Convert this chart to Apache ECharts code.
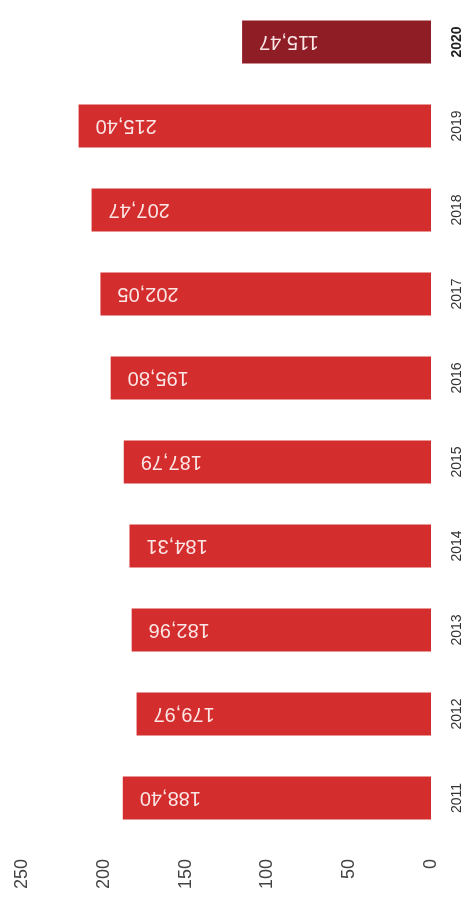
<!DOCTYPE html>
<html>
<head>
<meta charset="utf-8">
<style>html,body{margin:0;padding:0;background:#fff;}#c{width:473px;height:911px;}</style>
<script src="https://cdn.jsdelivr.net/npm/echarts@6/dist/echarts.min.js"></script>
</head>
<body>
<div id="c"></div>
<script>
var years = ['2011','2012','2013','2014','2015','2016','2017','2018','2019','2020'];
var values = [188.40, 179.97, 182.96, 184.31, 187.79, 195.80, 202.05, 207.47, 215.40, 115.47];
var valueTicks = [0, 50, 100, 150, 200, 250];
var barColor = '#d42d2d';
var lastColor = '#8f1d25';

var chart = echarts.init(document.getElementById('c'), null, {renderer: 'canvas'});
chart.setOption({
  animation: false,
  backgroundColor: '#ffffff',
  grid: {left: 22, right: 42, top: -17, bottom: 71},
  xAxis: {
    type: 'value', inverse: true, min: valueTicks[0], max: valueTicks[valueTicks.length - 1], interval: 50,
    axisLine: {show: false}, axisTick: {show: false}, splitLine: {show: false},
    axisLabel: {
      rotate: 90, align: 'right', verticalAlign: 'middle', margin: 19,
      fontFamily: 'Liberation Sans', fontSize: 18, color: '#444'
    }
  },
  yAxis: {
    type: 'category', position: 'right', data: years,
    axisLine: {show: false}, axisTick: {show: false}, splitLine: {show: false},
    axisLabel: {
      rotate: 90, align: 'center', verticalAlign: 'top', margin: 19,
      fontFamily: 'Liberation Sans', fontSize: 14, color: '#333',
      formatter: function (v) { return v === '2020' ? '{b|' + v + '}' : v; },
      rich: {b: {fontWeight: 'bold', fontSize: 14, color: '#222', fontFamily: 'Liberation Sans'}}
    }
  },
  series: [{
    type: 'bar',
    barWidth: 43,
    data: values.map(function (v, i) {
      return {value: v, itemStyle: {color: i === values.length - 1 ? lastColor : barColor}};
    }),
    label: {
      show: true, position: 'insideLeft', distance: 17, rotate: 180,
      align: 'right', verticalAlign: 'middle',
      fontFamily: 'Liberation Sans', fontSize: 20, color: '#fbe6e6',
      formatter: function (p) { return p.value.toFixed(2).replace('.', ','); }
    }
  }]
});
</script>
</body>
</html>
